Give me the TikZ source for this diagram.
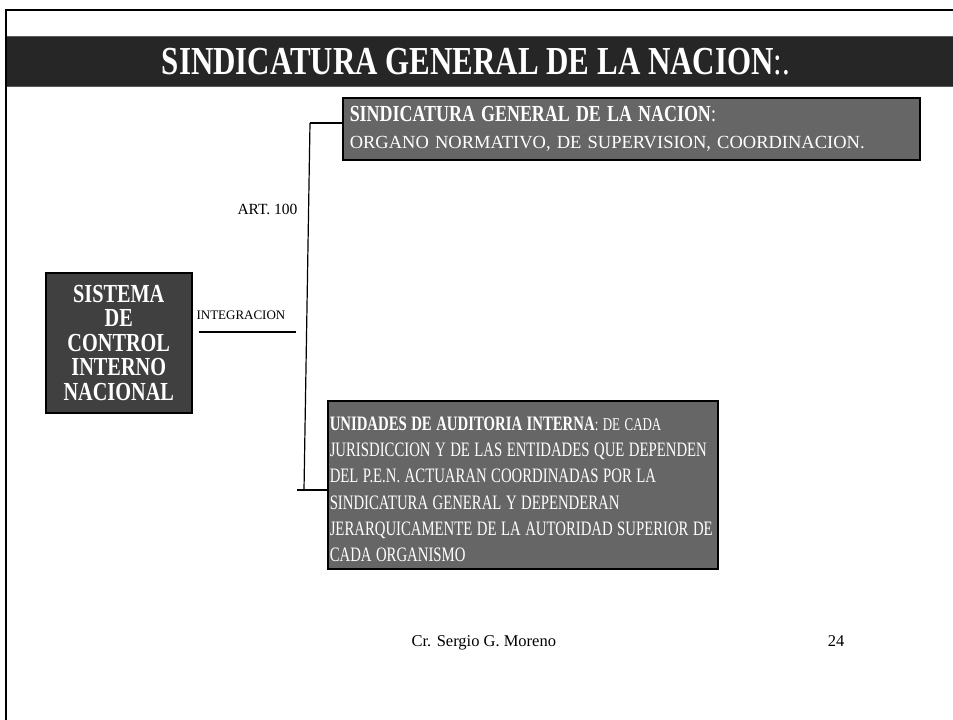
\documentclass[tikz,border=0pt]{standalone}
\usepackage{fontspec}
\setmainfont{Liberation Serif}
\newfontfamily\condfont[FakeStretch=0.78]{Liberation Serif}
\newfontfamily\narrowfont[FakeStretch=0.72]{Liberation Serif}
\definecolor{barcol}{HTML}{262626}
\definecolor{boxgray}{HTML}{666666}
\definecolor{darkbox}{HTML}{404040}
\tikzset{
  graybox/.style={draw=black, line width=1.5pt, fill=boxgray, text=white, anchor=north west,
    inner ysep=0pt, align=left},
  link/.style={line width=2pt}
}
\begin{document}
\begin{tikzpicture}[x=1pt, y=-1pt]
\useasboundingbox (0,0) rectangle (953,720);
\fill[barcol, draw=gray!70!black, line width=1pt] (6,36) rectangle (953,86);
\draw[line width=2.5pt] (6,720) -- (6,10) -- (953,10);
\node[anchor=base, text=white] (title) at (476,74)
  {\condfont\fontsize{39.7}{42}\selectfont\textbf{SINDICATURA GENERAL DE LA NACION}:.};
\node[graybox, minimum width=577pt, minimum height=62pt, text width=563pt, inner xsep=7pt,
  font=\fontsize{18.5}{27}\selectfont] (sgn) at (342,97)
  {{\condfont\fontsize{23}{27}\selectfont\textbf{SINDICATURA GENERAL DE LA NACION}:}\\
   ORGANO NORMATIVO, DE SUPERVISION, COORDINACION.};
\node[draw=black, line width=1.5pt, fill=darkbox, text=white, anchor=north west,
  minimum width=146pt, minimum height=140pt, align=center,
  font=\condfont\bfseries\fontsize{26}{24.5}\selectfont] (sci) at (45,272)
  {SISTEMA\\DE\\CONTROL\\INTERNO\\NACIONAL};
\node[graybox, minimum width=390pt, minimum height=168pt, text width=386pt, inner xsep=2pt,
  font=\narrowfont\fontsize{20.5}{26.3}\selectfont] (uai) at (327,400)
  {\spaceskip=4.5pt\relax
   \mbox{\rule{0pt}{22.5pt}\textbf{UNIDADES DE AUDITORIA INTERNA}{\fontsize{18}{26.3}\selectfont: DE CADA}}\\
   \mbox{JURISDICCION Y DE LAS ENTIDADES QUE DEPENDEN}\\
   \mbox{DEL P.E.N. ACTUARAN COORDINADAS POR LA}\\
   \mbox{SINDICATURA GENERAL Y DEPENDERAN}\\
   \mbox{JERARQUICAMENTE DE LA AUTORIDAD SUPERIOR DE}\\
   \mbox{CADA ORGANISMO}};
\node[anchor=base east, font=\fontsize{15.5}{17}\selectfont] (art) at (301,214) {ART. 100};
\node[anchor=base west, font=\fontsize{13}{15}\selectfont] (integ) at (193,319) {INTEGRACION};
\coordinate (intl) at (199,332);
\coordinate (intr) at (296,332);
\draw[link] (intl) -- (intr);
\coordinate (top) at (310,123);
\coordinate (bot) at (304,490);
\coordinate (botleft) at (297,490);
\draw[link] (sgn.west |- top) -- (top);
\draw[line width=1.2pt] (top) -- (bot);
\draw[link] (botleft) -- (uai.west |- botleft);
\node[anchor=base west, font=\fontsize{16.5}{18}\selectfont] (autor) at (408,646) {Cr. Sergio G. Moreno};
\node[anchor=base east, font=\fontsize{16.5}{18}\selectfont] (pag) at (848,646) {24};
\end{tikzpicture}
\end{document}
